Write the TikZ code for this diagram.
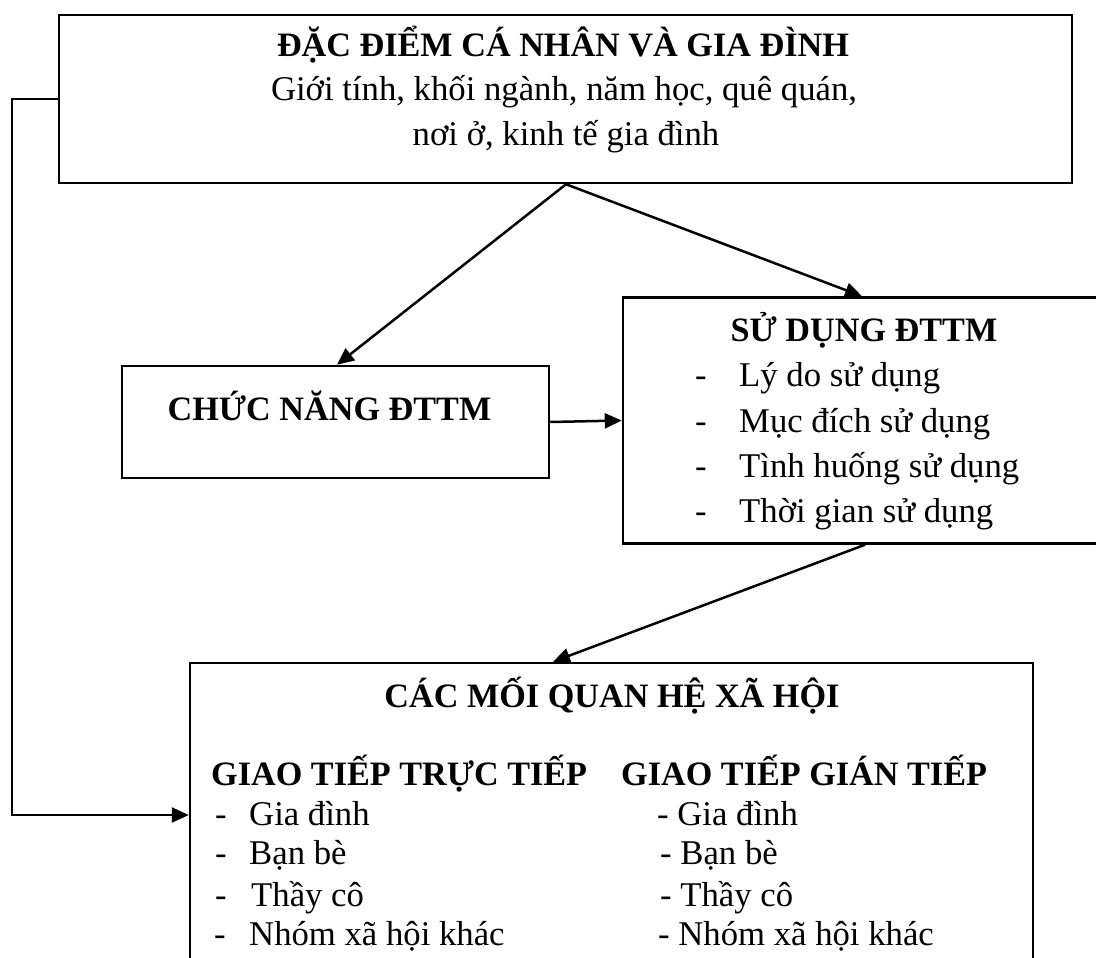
\documentclass[tikz,border=0pt]{standalone}
\usepackage{fontspec}
\setmainfont{Liberation Serif}
\usetikzlibrary{arrows.meta}
\begin{document}
\begin{tikzpicture}[x=1pt,y=-1pt,
  box/.style={draw,line width=2.5pt,rectangle,inner sep=0pt},
  txt/.style={inner sep=0pt,font=\fontsize{34.7}{42}\selectfont},
  btxt/.style={inner sep=0pt,font=\fontsize{34.2}{42}\selectfont\bfseries},
  arr/.style={line width=2.5pt,-{Triangle[length=17pt,width=15pt]}}]
\useasboundingbox (0,0) rectangle (1096,958);
\clip (0,0) rectangle (1096,958);
% boxes
\node[box,minimum width=1013pt,minimum height=168pt] (top) at (565.5,99) {};
\node[box,minimum width=427pt,minimum height=112pt] (chuc) at (335.5,422) {};
\node[box,minimum width=497pt,minimum height=246pt] (sd) at (871.5,420.5) {};
\node[box,minimum width=843pt,minimum height=317pt] (qh) at (611.5,821.5) {};
% helper coordinates
\coordinate (x1) at (566,0);
\coordinate (x2) at (337,0);
\coordinate (x3) at (862,0);
\coordinate (x4) at (865,0);
\coordinate (x5) at (553,0);
\coordinate (lx) at (12,815);
% connectors
\draw[arr] (top.south -| x1) -- (chuc.north -| x2);
\draw[arr] (top.south -| x1) -- (sd.north -| x3);
\draw[arr] (chuc.east) -- (sd.west);
\draw[arr] (sd.south -| x4) -- (qh.north -| x5);
\draw[arr] (top.west) -| (lx) -- (lx -| qh.west);
% top box text
\node[btxt,anchor=base] (t1) at (563,57) {ĐẶC ĐIỂM CÁ NHÂN VÀ GIA ĐÌNH};
\node[txt,anchor=base] (t2) at (564,101) {Giới tính, khối ngành, năm học, quê quán,};
\node[txt,anchor=base] (t3) at (566,146) {nơi ở, kinh tế gia đình};
% chuc nang
\node[btxt,anchor=base] (c1) at (329.5,420) {CHỨC NĂNG ĐTTM};
% su dung
\node[btxt,anchor=base] (s0) at (864,341) {SỬ DỤNG ĐTTM};
\node[txt,anchor=base west] (sd1) at (695,386) {-};
\node[txt,anchor=base west] (sd2) at (695,432) {-};
\node[txt,anchor=base west] (sd3) at (695,477) {-};
\node[txt,anchor=base west] (sd4) at (695,522) {-};
\node[txt,anchor=base west] (se1) at (739,386) {Lý do sử dụng};
\node[txt,anchor=base west] (se2) at (739,432) {Mục đích sử dụng};
\node[txt,anchor=base west] (se3) at (739,477) {Tình huống sử dụng};
\node[txt,anchor=base west] (se4) at (739,522) {Thời gian sử dụng};
% quan he
\node[btxt,anchor=base] (q0) at (612,707) {CÁC MỐI QUAN HỆ XÃ HỘI};
\node[btxt,anchor=base west] (g1) at (211,785) {GIAO TIẾP TRỰC TIẾP};
\node[btxt,anchor=base west] (g2) at (621,785) {GIAO TIẾP GIÁN TIẾP};
\node[txt,anchor=base west] (ld1) at (215,825) {-};
\node[txt,anchor=base west] (ld2) at (215,864) {-};
\node[txt,anchor=base west] (ld3) at (215,906) {-};
\node[txt,anchor=base west] (ld4) at (214,945) {-};
\node[txt,anchor=base west] (le1) at (249,825) {Gia đình};
\node[txt,anchor=base west] (le2) at (249,864) {Bạn bè};
\node[txt,anchor=base west] (le3) at (251,906) {Thầy cô};
\node[txt,anchor=base west] (le4) at (249,945) {Nhóm xã hội khác};
\node[txt,anchor=base west] (r1) at (657,825) {- Gia đình};
\node[txt,anchor=base west] (r2) at (660,864) {- Bạn bè};
\node[txt,anchor=base west] (r3) at (660,906) {- Thầy cô};
\node[txt,anchor=base west] (r4) at (658,945) {- Nhóm xã hội khác};
\end{tikzpicture}
\end{document}
